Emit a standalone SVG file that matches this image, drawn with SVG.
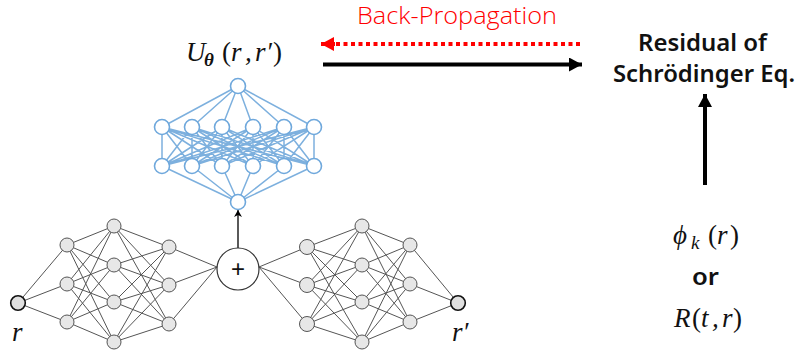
<svg xmlns="http://www.w3.org/2000/svg" width="801" height="351" viewBox="0 0 801 351">
<style>
.b{fill:#fff;stroke:#6fa8dc;stroke-width:1.6}
.g{fill:#e7e7e7;stroke:#555;stroke-width:1}
.io{fill:#e0e0e0;stroke:#111;stroke-width:1.6}
.m{font-family:"Liberation Serif",serif;font-style:italic;font-size:27px;fill:#111}
.n{font-style:normal}
.s{font-family:"Noto Sans",sans-serif;font-weight:600;font-size:23.500px;fill:#111}
.bl{fill:none;stroke:#7db0de;stroke-width:1.5}
.gl{fill:none;stroke:#555;stroke-width:1}
</style>
<defs>
<marker id="ah" markerUnits="userSpaceOnUse" markerWidth="14" markerHeight="14" refX="13" refY="7" orient="auto"><path d="M0 0L13 7L0 14Z" fill="#000"/></marker>
<marker id="ar" markerUnits="userSpaceOnUse" markerWidth="14" markerHeight="14" refX="13" refY="7" orient="auto"><path d="M0 0L13 7L0 14Z" fill="#f00"/></marker>
<marker id="as" markerUnits="userSpaceOnUse" markerWidth="8" markerHeight="8" refX="7" refY="4" orient="auto"><path d="M0 0L7 4L0 8L2 4Z" fill="#000"/></marker>
</defs>
<g id="connectors">
<path class="bl" d="M238 86L162 127M238 86L192 127M238 86L222 127M238 86L253 127M238 86L284 127M238 86L314 127M238 202L162 166M238 202L192 166M238 202L222 166M238 202L253 166M238 202L284 166M238 202L314 166"/>
<path class="bl" d="M162 127L162 166M162 127L192 166M162 127L222 166M162 127L253 166M162 127L284 166M162 127L314 166M192 127L162 166M192 127L192 166M192 127L222 166M192 127L253 166M192 127L284 166M192 127L314 166M222 127L162 166M222 127L192 166M222 127L222 166M222 127L253 166M222 127L284 166M222 127L314 166M253 127L162 166M253 127L192 166M253 127L222 166M253 127L253 166M253 127L284 166M253 127L314 166M284 127L162 166M284 127L192 166M284 127L222 166M284 127L253 166M284 127L284 166M284 127L314 166M314 127L162 166M314 127L192 166M314 127L222 166M314 127L253 166M314 127L284 166M314 127L314 166"/>
<path class="gl" d="M18 303L67 245M18 303L67 284M18 303L67 322"/>
<path class="gl" d="M67 245L114 226M67 245L114 265M67 245L114 302M67 245L114 342M67 284L114 226M67 284L114 265M67 284L114 302M67 284L114 342M67 322L114 226M67 322L114 265M67 322L114 302M67 322L114 342"/>
<path class="gl" d="M114 226L169 247M114 226L169 285M114 226L169 324M114 265L169 247M114 265L169 285M114 265L169 324M114 302L169 247M114 302L169 285M114 302L169 324M114 342L169 247M114 342L169 285M114 342L169 324"/>
<path class="gl" d="M169 247L217 267M169 285L217 267M169 324L217 267M259 267L307 247M259 267L307 285M259 267L307 324"/>
<path class="gl" d="M307 247L362 226M307 247L362 265M307 247L362 302M307 247L362 342M307 285L362 226M307 285L362 265M307 285L362 302M307 285L362 342M307 324L362 226M307 324L362 265M307 324L362 302M307 324L362 342"/>
<path class="gl" d="M362 226L410 245M362 226L410 284M362 226L410 322M362 265L410 245M362 265L410 284M362 265L410 322M362 302L410 245M362 302L410 284M362 302L410 322M362 342L410 245M362 342L410 284M362 342L410 322"/>
<path class="gl" d="M410 245L458 303M410 284L458 303M410 322L458 303"/>
<path d="M238 248L238 210" fill="none" stroke="#000" stroke-width="1.3" marker-end="url(#as)"/>
<path d="M580 44L334 44" fill="none" stroke="#f00" stroke-width="4" stroke-dasharray="4 3.500"/>
<path d="M335 44L321 44" fill="none" stroke="#f00" stroke-width="4" marker-end="url(#ar)"/>
<path d="M323 64.500L582 64.500" fill="none" stroke="#000" stroke-width="4" marker-end="url(#ah)"/>
<path d="M705 185L705 94" fill="none" stroke="#000" stroke-width="4" marker-end="url(#ah)"/>
</g>
<g id="blue-top"><circle class="b" cx="238" cy="86" r="7.500"/></g>
<g id="blue-h1"><circle class="b" cx="162" cy="127" r="7.500"/></g>
<g id="blue-h2"><circle class="b" cx="192" cy="127" r="7.500"/></g>
<g id="blue-h3"><circle class="b" cx="222" cy="127" r="7.500"/></g>
<g id="blue-h4"><circle class="b" cx="253" cy="127" r="7.500"/></g>
<g id="blue-h5"><circle class="b" cx="284" cy="127" r="7.500"/></g>
<g id="blue-h6"><circle class="b" cx="314" cy="127" r="7.500"/></g>
<g id="blue-l1"><circle class="b" cx="162" cy="166" r="7.500"/></g>
<g id="blue-l2"><circle class="b" cx="192" cy="166" r="7.500"/></g>
<g id="blue-l3"><circle class="b" cx="222" cy="166" r="7.500"/></g>
<g id="blue-l4"><circle class="b" cx="253" cy="166" r="7.500"/></g>
<g id="blue-l5"><circle class="b" cx="284" cy="166" r="7.500"/></g>
<g id="blue-l6"><circle class="b" cx="314" cy="166" r="7.500"/></g>
<g id="blue-bottom"><circle class="b" cx="238" cy="202" r="7.500"/></g>
<g id="left-in"><circle class="io" cx="18" cy="303" r="7.300"/></g>
<g id="left-a1"><circle class="g" cx="67" cy="245" r="7"/></g>
<g id="left-a2"><circle class="g" cx="67" cy="284" r="7"/></g>
<g id="left-a3"><circle class="g" cx="67" cy="322" r="7"/></g>
<g id="left-b1"><circle class="g" cx="114" cy="226" r="7"/></g>
<g id="left-b2"><circle class="g" cx="114" cy="265" r="7"/></g>
<g id="left-b3"><circle class="g" cx="114" cy="302" r="7"/></g>
<g id="left-b4"><circle class="g" cx="114" cy="342" r="7"/></g>
<g id="left-c1"><circle class="g" cx="169" cy="247" r="7"/></g>
<g id="left-c2"><circle class="g" cx="169" cy="285" r="7"/></g>
<g id="left-c3"><circle class="g" cx="169" cy="324" r="7"/></g>
<g id="right-a1"><circle class="g" cx="307" cy="247" r="7.500"/></g>
<g id="right-a2"><circle class="g" cx="307" cy="285" r="7.500"/></g>
<g id="right-a3"><circle class="g" cx="307" cy="324" r="7.500"/></g>
<g id="right-b1"><circle class="g" cx="362" cy="226" r="7"/></g>
<g id="right-b2"><circle class="g" cx="362" cy="265" r="7"/></g>
<g id="right-b3"><circle class="g" cx="362" cy="302" r="7"/></g>
<g id="right-b4"><circle class="g" cx="362" cy="342" r="7"/></g>
<g id="right-c1"><circle class="g" cx="410" cy="245" r="7"/></g>
<g id="right-c2"><circle class="g" cx="410" cy="284" r="7"/></g>
<g id="right-c3"><circle class="g" cx="410" cy="322" r="7"/></g>
<g id="right-out"><circle class="io" cx="458" cy="303" r="7.300"/></g>
<g id="plus"><circle cx="238" cy="269" r="21" fill="#fff" stroke="#333" stroke-width="1.2"/><text x="238" y="277" font-family="Liberation Sans,sans-serif" font-size="24" text-anchor="middle" fill="#111">+</text></g>
<g id="label-u"><text class="m" y="60.500"><tspan x="186">U</tspan><tspan x="204" y="65.500" font-size="19" font-weight="bold">θ</tspan><tspan x="222" y="60.500" class="n">(</tspan><tspan x="231">r</tspan><tspan x="245">,</tspan><tspan x="255">r</tspan><tspan x="266">′</tspan><tspan x="273" class="n">)</tspan></text></g>
<g id="label-backprop"><text x="357" y="24" font-family="Open Sans,sans-serif" font-weight="300" font-size="23" fill="#f00" textLength="200" lengthAdjust="spacingAndGlyphs">Back-Propagation</text></g>
<g id="label-residual"><text class="s" x="638" y="51" textLength="129" lengthAdjust="spacingAndGlyphs">Residual of</text><text class="s" x="613" y="82" textLength="182" lengthAdjust="spacingAndGlyphs">Schrödinger Eq.</text></g>
<g id="label-phi"><text class="m" y="244"><tspan x="673">ϕ</tspan><tspan x="691" y="249" font-size="19">k</tspan><tspan x="708" y="244" class="n">(</tspan><tspan x="717">r</tspan><tspan x="730" class="n">)</tspan></text></g>
<g id="label-or"><text class="s" x="692" y="285" textLength="27" lengthAdjust="spacingAndGlyphs">or</text></g>
<g id="label-r"><text class="m" y="327"><tspan x="674">R</tspan><tspan x="692" class="n">(</tspan><tspan x="701">t</tspan><tspan x="712">,</tspan><tspan x="722">r</tspan><tspan x="733" class="n">)</tspan></text></g>
<g id="label-r-left"><text class="m" x="12" y="341" font-size="29">r</text></g>
<g id="label-r-right"><text class="m" x="452" y="341" font-size="29">r′</text></g>
</svg>
